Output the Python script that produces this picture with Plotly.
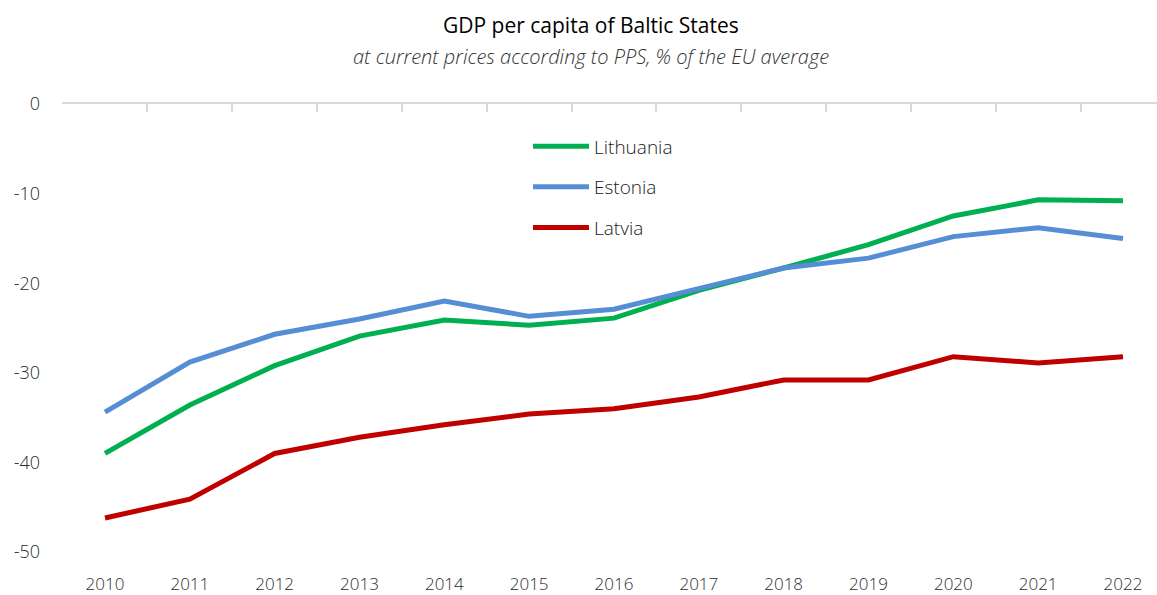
import plotly.graph_objects as go

years = [2010, 2011, 2012, 2013, 2014, 2015, 2016, 2017, 2018, 2019, 2020, 2021, 2022]
lithuania = [-39.0, -33.6, -29.2, -25.9, -24.1, -24.7, -23.9, -20.8, -18.3, -15.7, -12.5, -10.7, -10.8]
estonia = [-34.4, -28.8, -25.7, -24.0, -22.0, -23.7, -22.9, -20.6, -18.3, -17.2, -14.8, -13.8, -15.0]
latvia = [-46.2, -44.1, -39.0, -37.2, -35.8, -34.6, -34.0, -32.7, -30.8, -30.8, -28.2, -28.9, -28.2]
y_ticks = [0, -10, -20, -30, -40, -50]

FONT = "Open Sans"
series = [("Lithuania", lithuania, "#00B050"),
          ("Estonia", estonia, "#558ED5"),
          ("Latvia", latvia, "#C00000")]

fig = go.Figure()
for name, vals, col in series:
    fig.add_trace(go.Scatter(x=years, y=vals, mode="lines", name=name,
                             legendgroup=name,
                             line=dict(color=col, width=5)))

# boundary tick axis (line at y=0, ticks pointing down)
bounds = [y - 0.5 for y in years] + [years[-1] + 0.5]
fig.add_trace(go.Scatter(x=[years[0]], y=[None], xaxis="x2", showlegend=False, hoverinfo="skip"))

x0 = years[0] - 43 / 84.83
x1 = years[-1] + 34 / 84.83

TXT = "#2b2b2b"
fig.update_layout(
    width=1157, height=595,
    paper_bgcolor="white", plot_bgcolor="white",
    margin=dict(l=62, r=0, t=104, b=43),
    font=dict(family=FONT, size=17, color=TXT, weight=300),
    xaxis=dict(range=[x0, x1], tickvals=years, ticktext=[str(y) for y in years],
               showline=False, showgrid=False, zeroline=False, ticks="",
               ticklabelstandoff=20, tickfont=dict(size=17, color=TXT, weight=300)),
    xaxis2=dict(range=[x0, x1], overlaying="x", side="top", anchor="y",
                tickvals=bounds, showticklabels=False, ticks="inside",
                ticklen=8, tickwidth=1.5, tickcolor="#D9D9D9",
                showline=True, linecolor="#D9D9D9", linewidth=1.5,
                showgrid=False, zeroline=False),
    yaxis=dict(range=[-50, 0], tickvals=y_ticks, ticktext=[str(v) for v in y_ticks],
               showgrid=False, zeroline=False, showline=False,
               ticklabelstandoff=21, tickfont=dict(size=18, color=TXT, weight=300)),
    legend=dict(x=(528 - 62) / 1095, y=0.948, xanchor="left", yanchor="top",
                font=dict(size=19, color="#1a1a1a", weight=300), tracegroupgap=13,
                itemwidth=56, bgcolor="rgba(0,0,0,0)"),
    showlegend=True,
    annotations=[
        dict(text="GDP per capita of Baltic States", xref="paper", yref="paper",
             x=(591 - 62) / 1095, y=1, yshift=79, xanchor="center", yanchor="middle",
             showarrow=False, font=dict(family=FONT, size=21, color="#000000", weight=400)),
        dict(text="<i>at current prices according to PPS, % of the EU average</i>",
             xref="paper", yref="paper", x=(591 - 62) / 1095, y=1, yshift=48,
             xanchor="center", yanchor="middle", showarrow=False,
             font=dict(family=FONT, size=20, color="#333333", weight=300)),
    ],
)

fig.write_html("out.html")
